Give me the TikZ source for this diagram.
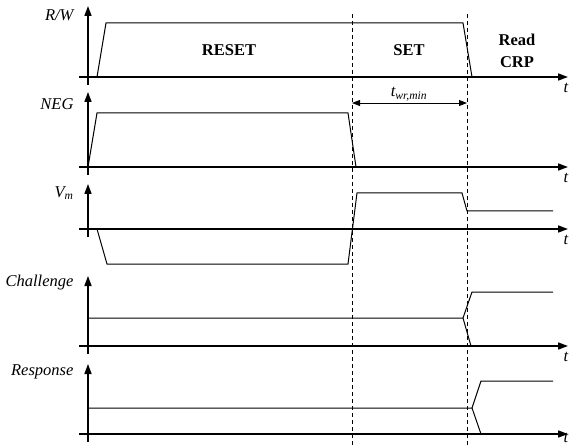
\documentclass[tikz,border=0pt]{standalone}
\usepackage{fontspec}
\setmainfont{Liberation Serif}
\usetikzlibrary{arrows.meta}

\tikzset{
  axis/.style={line width=1.6pt,-{Triangle[length=10pt,width=7pt]}},
  sig/.style={line width=1pt},
  guide/.style={line width=0.8pt,dash pattern=on 4pt off 3pt},
  sname/.style={font=\itshape\fontsize{16.5}{18}\selectfont,anchor=east},
  tlabel/.style={font=\itshape\fontsize{16.5}{18}\selectfont,inner sep=0pt},
  phase/.style={font=\bfseries\fontsize{16.5}{22}\selectfont,align=center},
}

\begin{document}
\begin{tikzpicture}[x=1pt,y=-1pt]
  \useasboundingbox (0,0) rectangle (572,446);
  % axes: name/baseline/top/t label
  \foreach \nm/\base/\top/\ty in {rw/77/6/88,neg/167/92/178,vm/229/184/240,ch/346/276/357,rs/434/364/438}{
    \draw[axis] (79,\base) -- (568,\base);
    \draw[axis] (88,\base+8) -- (88,\top);
    \node[tlabel] (t\nm) at (566,\ty) {t};
  }
  \node[sname] (lrw) at (77,15) {R/W};
  \node[sname] (lneg) at (77,104) {NEG};
  \node[sname] (lvm) at (77,193) {V\textsubscript{m}};
  \node[sname] (lch) at (77,283) {Challenge};
  \node[sname] (lrs) at (77,372) {Response};
  % phases
  \node[phase] (reset) at (229,50) {RESET};
  \node[phase] (set) at (409,50) {SET};
  \node[phase] (read) at (517,51) {Read\\CRP};
  % guides
  \coordinate (g1) at (352,14);
  \coordinate (g2) at (467,14);
  \draw[guide] (g1) -- (352,446);
  \draw[guide] (g2) -- (467,446);
  \coordinate (w1) at (352,103);
  \coordinate (w2) at (467,103);
  \draw[line width=0.9pt,{Triangle[length=8pt,width=6pt]}-{Triangle[length=8pt,width=6pt]}] (w1) -- (w2);
  \node[font=\itshape\fontsize{16.5}{18}\selectfont] (twr) at (409,94) {t\textsubscript{wr,min}};
  % signals
  \draw[sig] (97,77) -- (106,23) -- (463,23) -- (472,77);
  \draw[sig] (88,167) -- (97,113) -- (348,113) -- (356,167);
  \draw[sig] (97,229) -- (107,264) -- (348,264) -- (357,193) -- (462,193) -- (467,211) -- (553,211);
  \draw[sig] (88,318) -- (463,318) -- (472,292) -- (553,292);
  \draw[sig] (463,318) -- (471,346);
  \draw[sig] (88,408) -- (472,408) -- (481,381) -- (553,381);
  \draw[sig] (472,408) -- (481,434);
\end{tikzpicture}
\end{document}
